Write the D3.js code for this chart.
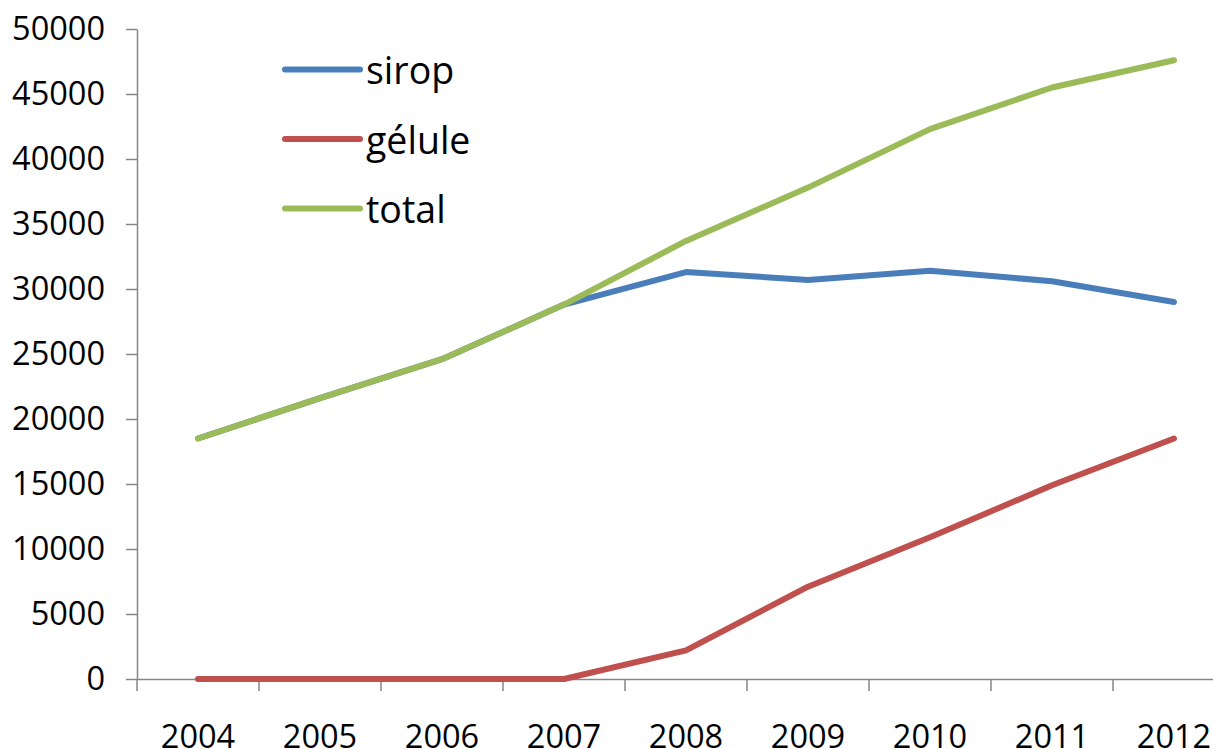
<!DOCTYPE html>
<html>
<head>
<meta charset="utf-8">
<script src="https://cdn.jsdelivr.net/npm/d3@7"></script>
<style>
  body { margin: 0; background: #fff; }
  svg text { font-family: "Open Sans", sans-serif; fill: #000; }
</style>
</head>
<body>
<div id="chart"></div>
<script>
// data
var years = ["2004","2005","2006","2007","2008","2009","2010","2011","2012"];
var sirop = [18500, 21600, 24600, 28800, 31300, 30700, 31400, 30600, 29000];
var gelule = [0, 0, 0, 0, 2200, 7100, 10900, 14900, 18500];
var total = [18500, 21600, 24600, 28800, 33700, 37800, 42300, 45500, 47600];
var yTicks = [0, 5000, 10000, 15000, 20000, 25000, 30000, 35000, 40000, 45000, 50000];

var seriesNames = ["sirop", "gélule", "total"];
var seriesColors = ["#4a7ebb", "#c0504d", "#9bbb59"];

// settings for window
var w = 1213;
var h = 749;
var plotLeft = 137, plotRight = 1235, plotTop = 29, plotBottom = 679;

var svg = d3.select("#chart").append("svg").attr("width", w).attr("height", h);

// scales
var xScale = d3.scaleBand().domain(years).range([plotLeft, plotRight]);
var yScale = d3.scaleLinear().domain([0, 50000]).range([plotBottom, plotTop]);
var half = xScale.bandwidth() / 2;

// axes
var yAxis = d3.axisLeft(yScale).tickValues(yTicks).tickSizeInner(11).tickSizeOuter(0).tickPadding(21).tickFormat(d3.format("d"));
var xAxis = d3.axisBottom(xScale).tickSizeInner(12).tickSizeOuter(0).tickPadding(34);

var gy = svg.append("g").attr("class", "y axis").attr("transform", "translate(" + plotLeft + ",0)").call(yAxis);
var gx = svg.append("g").attr("class", "x axis").attr("transform", "translate(0," + plotBottom + ")").call(xAxis);

// excel style: ticks sit between the categories
gx.selectAll(".tick line").attr("x1", -half).attr("x2", -half);

svg.selectAll(".axis path, .axis line").attr("stroke", "#868686").attr("stroke-width", 1.5);
svg.selectAll(".axis text").style("font-size", "32.5px").attr("fill", "#000");

// lines
var line = d3.line()
  .x(function(d, i) { return xScale(years[i]) + half; })
  .y(function(d) { return yScale(d); });

var allSeries = [sirop, gelule, total];
svg.selectAll(".series").data(allSeries).enter().append("path")
  .attr("class", "series")
  .attr("d", line)
  .attr("fill", "none")
  .attr("stroke", function(d, i) { return seriesColors[i]; })
  .attr("stroke-width", 6)
  .attr("stroke-linecap", "round")
  .attr("stroke-linejoin", "round");

// legend
var legend = svg.selectAll(".legend").data(seriesNames).enter().append("g")
  .attr("class", "legend")
  .attr("transform", function(d, i) { return "translate(285," + (69.5 + i * 69.5) + ")"; });
legend.append("line").attr("x1", 0).attr("x2", 75).attr("y1", 0).attr("y2", 0)
  .attr("stroke", function(d, i) { return seriesColors[i]; })
  .attr("stroke-width", 6).attr("stroke-linecap", "round");
legend.append("text").attr("x", 81).attr("y", 14.5).style("font-size", "37.5px").text(function(d) { return d; });
</script>
</body>
</html>
